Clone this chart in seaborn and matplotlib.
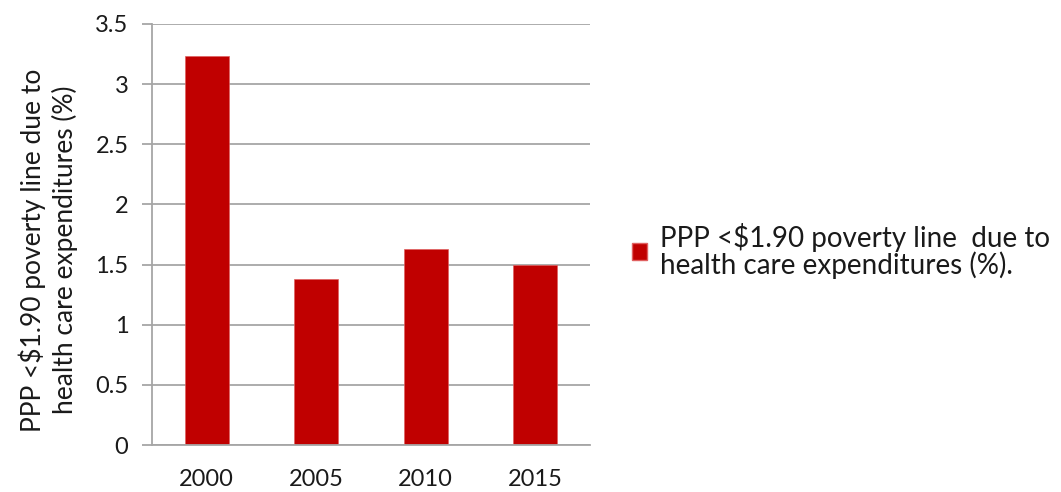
import matplotlib
matplotlib.use("Agg")
import matplotlib.pyplot as plt
import seaborn as sns
import pandas as pd
from matplotlib.patches import Patch

years = ["2000", "2005", "2010", "2015"]
values = [3.23, 1.38, 1.63, 1.50]
y_ticks = [0, 0.5, 1, 1.5, 2, 2.5, 3, 3.5]
y_tick_labels = ["0", "0.5", "1", "1.5", "2", "2.5", "3", "3.5"]
series_label = "PPP <$1.90 poverty line  due to\nhealth care expenditures (%)."
y_label = "PPP <$1.90 poverty line due to\nhealth care expenditures (%)"

sns.set_theme(style="white")
plt.rcParams['font.family'] = ['Lato', 'DejaVu Sans']

df = pd.DataFrame({"year": years, "value": values})

fig = plt.figure(figsize=(10.61, 4.92), dpi=100)
ax = fig.add_axes([152/1061, 1-445/492, (590-152)/1061, (445-24)/492])

sns.barplot(data=df, x="year", y="value", color="#C00000", saturation=1,
            width=0.40, ax=ax, edgecolor="#E06060", linewidth=0.5)

ax.set_ylim(0, 3.5)
ax.set_xlim(-0.5, 3.5)
ax.set_yticks(y_ticks)
ax.set_yticklabels(y_tick_labels)
ax.yaxis.grid(True, color="#A6A6A6", linewidth=1.3)
ax.set_axisbelow(True)
for s in ["top", "right"]:
    ax.spines[s].set_visible(False)
ax.spines["left"].set_color("#A6A6A6")
ax.spines["bottom"].set_color("#A6A6A6")
ax.spines["left"].set_linewidth(1.3)
ax.spines["bottom"].set_linewidth(1.3)
ax.tick_params(axis="y", left=True, length=7, width=1.3, color="#A6A6A6",
               labelsize=17, labelcolor="#1a1a1a", pad=10)
ax.tick_params(axis="x", bottom=False, labelsize=17, labelcolor="#1a1a1a", pad=11)
ax.set_xlabel("")
ax.set_ylabel(y_label, fontsize=19, color="#1a1a1a", linespacing=1.3)
ax.yaxis.set_label_coords((78-152)/438, (445-250)/421)

handles = [Patch(facecolor="#C00000", edgecolor="#E06060", label=series_label)]
fig.legend(handles=handles, loc="center left", bbox_to_anchor=(632/1061, 1-251/492),
           frameon=False, fontsize=20, handlelength=0.55, handleheight=0.55,
           handletextpad=0.45, borderpad=0, borderaxespad=0, labelspacing=0.2,
           labelcolor="#1a1a1a")
for t in fig.legends[0].get_texts():
    t.set_linespacing(1.0)

fig.savefig("out.png", dpi=100, facecolor="white")
